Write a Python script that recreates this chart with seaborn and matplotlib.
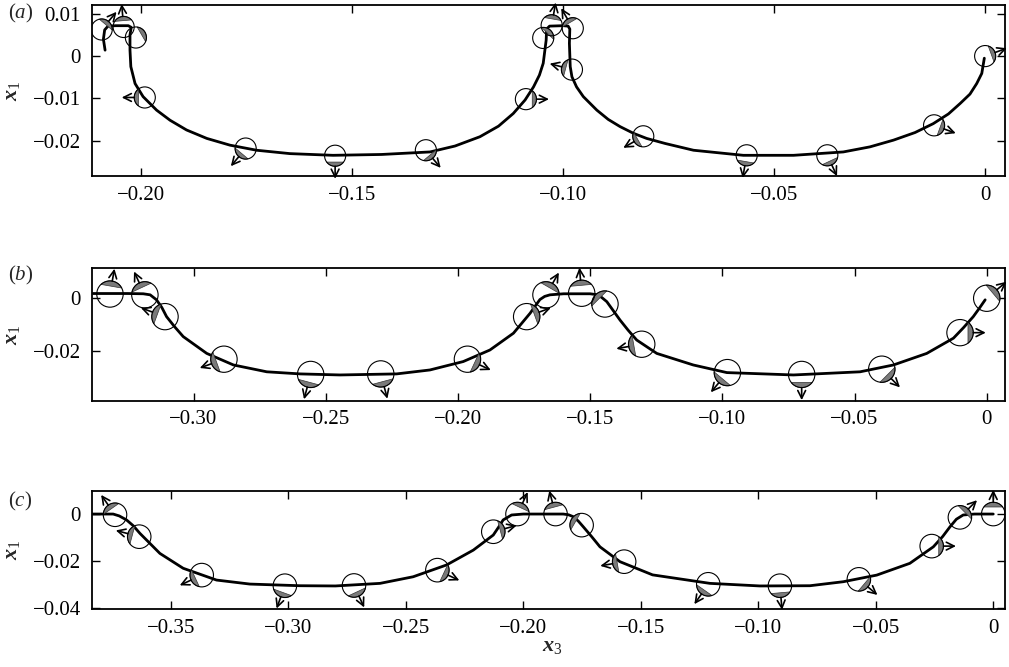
import numpy as np
import matplotlib
matplotlib.use("Agg")
import matplotlib.pyplot as plt
import seaborn as sns
from matplotlib.patches import Circle, Polygon

sns.set_theme(style="ticks")
plt.rcParams["font.family"] = ["Liberation Serif", "DejaVu Serif"]
plt.rcParams["mathtext.fontset"] = "custom"
plt.rcParams["mathtext.rm"] = "Liberation Serif"
plt.rcParams["mathtext.it"] = "Liberation Serif:italic"
plt.rcParams["mathtext.bf"] = "Liberation Serif:bold"
BFCMD = r"\mathbf"
if "mathtext.bfit" in plt.rcParams:
    plt.rcParams["mathtext.bfit"] = "Liberation Serif:italic:bold"
    BFCMD = r"\mathbfit"

# ---------------- Panel (a) ----------------
a_x3 = [-0.2085, -0.2089, -0.2086, -0.2078, -0.2060, -0.2030, -0.2023, -0.2026, -0.2026,
        -0.2024, -0.2014, -0.1995, -0.1963, -0.1931, -0.1892, -0.1844, -0.1789, -0.1726,
        -0.1647, -0.1545, -0.1430, -0.1315, -0.1256, -0.1197, -0.1153, -0.1118, -0.1090,
        -0.1070, -0.1056, -0.1047, -0.1040, -0.1039, -0.1032, -0.1000, -0.0988, -0.0984,
        -0.0985, -0.0983, -0.0979, -0.0968, -0.0952, -0.0920, -0.0893, -0.0865, -0.0833,
        -0.0802, -0.0758, -0.0691, -0.0573, -0.0454, -0.0336, -0.0273, -0.0217, -0.0166,
        -0.0123, -0.0087, -0.0059, -0.0036, -0.0020, -0.0008, -0.0002]
a_x1 = [0.0014, 0.0040, 0.0062, 0.0071, 0.0072, 0.0072, 0.0068, 0.0050, 0.0014,
        -0.0025, -0.0065, -0.0096, -0.0128, -0.0152, -0.0175, -0.0195, -0.0211, -0.0223,
        -0.0231, -0.0235, -0.0233, -0.0227, -0.0213, -0.0191, -0.0166, -0.0136, -0.0104,
        -0.0073, -0.0045, -0.0017, 0.0038, 0.0064, 0.0071, 0.0072, 0.0071, 0.0064,
        0.0030, -0.0025, -0.0049, -0.0073, -0.0096, -0.0128, -0.0150, -0.0167, -0.0183,
        -0.0195, -0.0207, -0.0223, -0.0235, -0.0235, -0.0227, -0.0215, -0.0199, -0.0181,
        -0.0160, -0.0137, -0.0112, -0.0090, -0.0065, -0.0041, -0.0005]
a_px3 = [-0.2093, -0.2041, -0.2012, -0.1991, -0.1752, -0.1540, -0.1325, -0.1088, -0.1047,
         -0.1027, -0.0977, -0.0979, -0.0810, -0.0565, -0.0374, -0.0121, 0.0]
a_px1 = [0.0063, 0.0069, 0.0044, -0.0098, -0.0219, -0.0236, -0.0223, -0.0102, 0.0043,
         0.0073, 0.0066, -0.0032, -0.0190, -0.0235, -0.0235, -0.0164, 0.0]
a_dir = [50, 95, 30, 180, 230, 270, 310, 0, 45, 80, 120, 165, 210, 260, 295, 340, 20]
a_show = [1, 1, 0, 1, 1, 1, 1, 1, 0, 1, 1, 1, 1, 1, 1, 1, 1]
a_radius = 0.0025
a_xticks = [-0.20, -0.15, -0.10, -0.05, 0.0]
a_xlabels = ["\u22120.20", "\u22120.15", "\u22120.10", "\u22120.05", "0"]
a_yticks = [0.01, 0.0, -0.01, -0.02]
a_ylabels = ["0.01", "0", "\u22120.01", "\u22120.02"]
a_xlim = (-0.2116, 0.0047)
a_ylim = (-0.0284, 0.0121)

# ---------------- Panel (b) ----------------
b_x3 = [-0.3380, -0.3250, -0.3190, -0.3164, -0.3140, -0.3120, -0.3102, -0.3072, -0.3039,
        -0.2950, -0.2849, -0.2723, -0.2597, -0.2446, -0.2232, -0.2106, -0.1980, -0.1879,
        -0.1790, -0.1727, -0.1708, -0.1690, -0.1672, -0.1652, -0.1600, -0.1500, -0.1470,
        -0.1455, -0.1437, -0.1412, -0.1387, -0.1356, -0.1324, -0.1248, -0.1110, -0.0983,
        -0.0731, -0.0479, -0.0353, -0.0227, -0.0126, -0.0088, -0.0051, -0.0028, -0.0006]
b_x1 = [0.0018, 0.0018, 0.0017, 0.0013, -0.0006, -0.0035, -0.0070, -0.0108, -0.0146,
        -0.0210, -0.0254, -0.0280, -0.0288, -0.0292, -0.0288, -0.0273, -0.0241, -0.0197,
        -0.0133, -0.0057, -0.0030, -0.0005, 0.0007, 0.0013, 0.0017, 0.0017, 0.0013,
        0.0002, -0.0013, -0.0048, -0.0083, -0.0122, -0.0159, -0.0210, -0.0254, -0.0283,
        -0.0292, -0.0280, -0.0254, -0.0210, -0.0152, -0.0112, -0.0070, -0.0038, -0.0006]
b_px3 = [-0.3316, -0.3184, -0.3108, -0.2885, -0.2557, -0.2292, -0.1964, -0.1740, -0.1667,
         -0.1532, -0.1444, -0.1305, -0.0981, -0.0700, -0.0397, -0.0101, 0.0]
b_px1 = [0.0016, 0.0013, -0.0070, -0.0232, -0.0290, -0.0288, -0.0232, -0.0070, 0.0013,
         0.0019, -0.0022, -0.0175, -0.0283, -0.0290, -0.0270, -0.0131, 0.0]
b_dir = [80, 115, 160, 200, 255, 285, 335, 20, 60, 95, 135, 190, 230, 270, 315, 0, 40]
b_show = [1, 1, 1, 1, 1, 1, 1, 1, 1, 1, 0, 1, 1, 1, 1, 1, 1]
b_radius = 0.0050
b_xticks = [-0.30, -0.25, -0.20, -0.15, -0.10, -0.05, 0.0]
b_xlabels = ["\u22120.30", "\u22120.25", "\u22120.20", "\u22120.15", "\u22120.10", "\u22120.05", "0"]
b_yticks = [0.0, -0.02]
b_ylabels = ["0", "\u22120.02"]
b_xlim = (-0.3384, 0.0069)
b_ylim = (-0.0390, 0.0114)

# ---------------- Panel (c) ----------------
c_x3 = [-0.3836, -0.3746, -0.3720, -0.3689, -0.3660, -0.3632, -0.3547, -0.3448, -0.3306,
        -0.3164, -0.2951, -0.2800, -0.2610, -0.2469, -0.2327, -0.2213, -0.2128, -0.2105,
        -0.2086, -0.2050, -0.2000, -0.1830, -0.1808, -0.1788, -0.1766, -0.1745, -0.1710,
        -0.1674, -0.1589, -0.1450, -0.1206, -0.0993, -0.0780, -0.0638, -0.0496, -0.0355,
        -0.0255, -0.0215, -0.0184, -0.0157, -0.0128, -0.0080, 0.0]
c_x1 = [0.0, 0.0, -0.0008, -0.0025, -0.0050, -0.0082, -0.0167, -0.0230, -0.0280,
        -0.0297, -0.0304, -0.0305, -0.0294, -0.0266, -0.0216, -0.0153, -0.0089, -0.0055,
        -0.0025, -0.0004, 0.0, 0.0, -0.0003, -0.0011, -0.0030, -0.0054, -0.0095,
        -0.0139, -0.0202, -0.0258, -0.0294, -0.0305, -0.0304, -0.0287, -0.0259, -0.0209,
        -0.0139, -0.0095, -0.0054, -0.0022, -0.0004, 0.0, 0.0]
c_px3 = [-0.3738, -0.3635, -0.3369, -0.3015, -0.2721, -0.2366, -0.2128, -0.2025, -0.1863,
         -0.1752, -0.1571, -0.1213, -0.0908, -0.0572, -0.0262, -0.0142, 0.0]
c_px1 = [-0.0003, -0.0096, -0.0259, -0.0304, -0.0303, -0.0238, -0.0075, 0.0, 0.0,
         -0.0047, -0.0202, -0.0298, -0.0304, -0.0277, -0.0136, -0.0014, 0.0]
c_dir = [125, 165, 205, 250, 295, 335, 15, 65, 105, 150, 190, 235, 275, 320, 0, 45, 90]
c_show = [1, 1, 1, 1, 1, 1, 1, 1, 1, 0, 1, 1, 1, 1, 1, 1, 1]
c_radius = 0.0050
c_xticks = [-0.35, -0.30, -0.25, -0.20, -0.15, -0.10, -0.05, 0.0]
c_xlabels = ["\u22120.35", "\u22120.30", "\u22120.25", "\u22120.20", "\u22120.15", "\u22120.10", "\u22120.05", "0"]
c_yticks = [0.0, -0.02, -0.04]
c_ylabels = ["0", "\u22120.02", "\u22120.04"]
c_xlim = (-0.3836, 0.0050)
c_ylim = (-0.0404, 0.0099)

panel_names = ["a", "b", "c"]

panels = [
    dict(x3=a_x3, x1=a_x1, px=a_px3, py=a_px1, d=a_dir, show=a_show, R=a_radius,
         xt=a_xticks, xl=a_xlabels, yt=a_yticks, yl=a_ylabels, xlim=a_xlim, ylim=a_ylim),
    dict(x3=b_x3, x1=b_x1, px=b_px3, py=b_px1, d=b_dir, show=b_show, R=b_radius,
         xt=b_xticks, xl=b_xlabels, yt=b_yticks, yl=b_ylabels, xlim=b_xlim, ylim=b_ylim),
    dict(x3=c_x3, x1=c_x1, px=c_px3, py=c_px1, d=c_dir, show=c_show, R=c_radius,
         xt=c_xticks, xl=c_xlabels, yt=c_yticks, yl=c_ylabels, xlim=c_xlim, ylim=c_ylim),
]

W, H = 1009, 667
rects = [(92, 5, 1005, 176), (92, 268.3, 1005, 400.7), (92, 490.7, 1005, 609.3)]
label_y = [13.5, 275.5, 501.5]

fig = plt.figure(figsize=(W / 100, H / 100), dpi=100)
fs = 15
arrow_px = 12.5
grey = "#7a7a7a"

for i, p in enumerate(panels):
    l, t, r, b = rects[i]
    ax = fig.add_axes([l / W, 1 - b / H, (r - l) / W, (b - t) / H])
    sns.lineplot(x=p["x3"], y=p["x1"], sort=False, estimator=None, color="black",
                 linewidth=2.0, ax=ax, zorder=2)
    ax.set_xlim(*p["xlim"])
    ax.set_ylim(*p["ylim"])
    sx = (r - l) / (p["xlim"][1] - p["xlim"][0])
    sy = (b - t) / (p["ylim"][1] - p["ylim"][0])
    R = p["R"]
    alpha = np.arccos(0.6)
    for cx, cy, ang, sh in zip(p["px"], p["py"], p["d"], p["show"]):
        th = np.deg2rad(ang)
        arc = np.linspace(th - alpha, th + alpha, 40)
        seg = np.column_stack([cx + R * np.cos(arc), cy + R * np.sin(arc) * sx / sy])
        ax.add_patch(Polygon(seg, closed=True, facecolor=grey, edgecolor="#333333",
                             linewidth=0.5, zorder=3))
        ax.add_patch(Circle((cx, cy), R, fill=False, edgecolor="black", linewidth=0.8, zorder=4))
        if sh:
            start = (cx + R * np.cos(th), cy + R * np.sin(th) * sx / sy)
            tip = (start[0] + arrow_px / sx * np.cos(th), start[1] + arrow_px / sy * np.sin(th))
            ax.annotate("", xy=tip, xytext=start, annotation_clip=False,
                        arrowprops=dict(arrowstyle="->", color="black", lw=1.2,
                                        shrinkA=0, shrinkB=0, mutation_scale=14),
                        zorder=5)
    ax.set_xticks(p["xt"], p["xl"])
    ax.set_yticks(p["yt"], p["yl"])
    ax.tick_params(axis="both", direction="in", top=True, right=True, length=5.5,
                   width=1.0, color="black", labelsize=fs, labelcolor="black")
    ax.tick_params(axis="x", pad=7)
    ax.tick_params(axis="y", pad=8)
    for s in ax.spines.values():
        s.set_visible(True)
        s.set_linewidth(1.3)
        s.set_color("black")
    ax.set_xlabel("")
    ax.set_ylabel("")
    ax.set_facecolor("white")
    fig.text(13 / W, 1 - ((t + b) / 2) / H, "$" + BFCMD + "{x}_1$", rotation=90,
             ha="center", va="center", fontsize=fs + 1)
    fig.text(8 / W, 1 - label_y[i] / H, r"($\mathit{" + panel_names[i] + r"}$)",
             ha="left", va="center", fontsize=fs)

fig.text(((92 + 1005) / 2 + 4) / W, 1 - 646 / H, "$" + BFCMD + "{x}_3$", ha="center",
         va="center", fontsize=fs + 1)

fig.savefig("out.png", dpi=100, facecolor="white")
